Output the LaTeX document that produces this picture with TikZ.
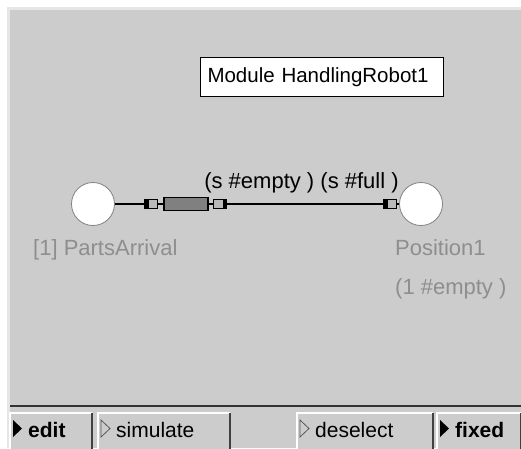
\documentclass[tikz,border=0pt]{standalone}
\usepackage{fontspec}
\setmainfont{Liberation Sans}
\usepackage{xcolor}
\usepackage{tikz}
\usetikzlibrary{positioning}
\definecolor{panel}{HTML}{CCCCCC}
\definecolor{rim}{HTML}{E6E6E6}
\definecolor{dimtext}{HTML}{8E8E8E}
\definecolor{transfill}{HTML}{808080}

\begin{document}
\begin{tikzpicture}[x=1pt,y=-1pt]
	\begin{scope}

\tikzset{place/.style={circle,draw=gray,line width=0.8pt,fill=white,minimum size=43pt,inner sep=0pt},
trans/.style={rectangle,draw=black,line width=1.2pt,fill=transfill,minimum width=44pt,minimum height=13pt,inner sep=0pt},
inport/.style={rectangle,draw=black,fill=gray!55,minimum width=13pt,minimum height=9pt,inner sep=0pt,
  path picture={\fill[black] (path picture bounding box.north west) rectangle ([xshift=4pt]path picture bounding box.south west);}},
outport/.style={rectangle,draw=black,fill=gray!55,minimum width=13pt,minimum height=9pt,inner sep=0pt,
  path picture={\fill[black] (path picture bounding box.north east) rectangle ([xshift=-4pt]path picture bounding box.south east);}},
txt/.style={font=\fontsize{22}{26}\selectfont,inner sep=0pt},
dim/.style={txt,text=dimtext},
button/.style={rectangle,fill=panel,anchor=north west,inner xsep=18pt,inner ysep=0pt,
  text height=24pt,text depth=12pt,align=left,font=\fontsize{21}{25}\selectfont}}

% window
\useasboundingbox (0,0) rectangle (521,448);
\fill[white] (0,0) rectangle (521,448);
\fill[rim] (7,7) rectangle (521,448);
\fill[panel] (10,10) rectangle (521,448);
\draw[black!80,line width=2pt] (10,405.5) -- (521,405.5);

\node[txt,draw,fill=white,line width=1pt,anchor=north west,font=\fontsize{20.5}{24}\selectfont,
  inner xsep=7pt,text width=229pt,align=left,minimum height=39pt] (title) at (200,57) {Module HandlingRobot1};

% the net
\node[place] (arrival) at (93,204) {};
\node[place] (position) at (421,204) {};
\node[trans] (robot) at (186,204) {};
\node[inport] (pin) at (151,204) {};
\node[outport] (pout) at (220,204) {};
\node[inport] (pend) at (390,204) {};

\draw[line width=1.2pt] (arrival) -- (pin);
\draw[line width=1.2pt] (pin) -- (robot);
\draw[line width=1.2pt] (robot) -- (pout);
\draw[line width=1.2pt] (pout) -- (pend);
\draw[line width=1.2pt] (pend) -- (position);

\node[txt,anchor=base] (arcs) at (301.5,188) {(s \#empty ) (s \#full )};
\node[dim,anchor=base west] (arrivallabel) at (33,255) {[1] PartsArrival};
\node[dim,anchor=base west] (positionlabel) at (395,255) {Position1};
\node[dim,anchor=base west] (marking) at (395,294) {(1 \#empty )};

% buttons
\node[button,text width=46pt,font=\fontsize{21}{25}\selectfont\bfseries] (edit) at (10,413) {edit};
\node[button,text width=96pt] (simulate) at (98,413) {simulate};
\node[button,text width=100pt] (deselect) at (297,413) {deselect};
\node[button,text width=48pt,font=\fontsize{21}{25}\selectfont\bfseries] (fixed) at (437,413) {fixed};

\foreach \b in {edit,simulate,deselect,fixed}
{
\draw[white,line width=2pt] (\b.south west) -- (\b.north west) -- (\b.north east);
\draw[black!75,line width=2pt] (\b.north east) -- (\b.south east);
}

\foreach \b in {edit,fixed}
{
\fill[black] (\b.north west) ++(3,7) -- ++(9,8.5) -- ++(-9,8.5) -- cycle;
}
\foreach \b in {simulate,deselect}
{
\draw[black!65,line width=0.8pt] (\b.north west) ++(3,7) -- ++(9,8.5) -- ++(-9,8.5) -- cycle;
}

	\end{scope}
\end{tikzpicture}
\end{document}
